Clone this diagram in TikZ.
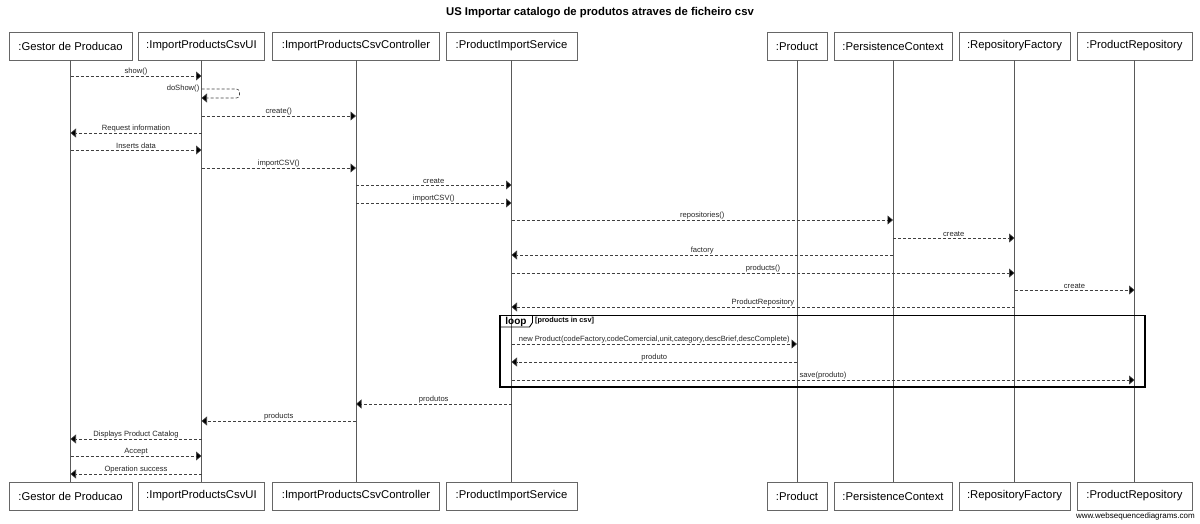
\documentclass[tikz,border=0pt]{standalone}
\usepackage{fontspec}
\setmainfont{Liberation Sans}
\usetikzlibrary{arrows.meta}
\tikzset{
  actor/.style={draw=black!60, fill=white, minimum height=28pt, inner sep=0pt, line width=0.7pt, font=\fontsize{11.3}{13}\selectfont},
  life/.style={draw=black!65, line width=0.8pt},
  msg/.style={draw=black!75, line width=0.6pt, dash pattern=on 3pt off 2pt, -{Triangle[length=5.5pt,width=9pt,fill=black]}},
  lbl/.style={above, inner sep=1pt, font=\fontsize{7.6}{8}\selectfont, text=black!85},
  frame/.style={draw=black, line width=1.1pt},
}
\newcommand\sqmsg[4]{\draw[msg] (#1 |- 0,#3) -- node[lbl]{#4} (#2 |- 0,#3);}
\begin{document}
\begin{tikzpicture}[x=1pt,y=-1pt]
\useasboundingbox (0,0) rectangle (1200,523);
\node[font=\bfseries\fontsize{11.3}{13}\selectfont] (title) at (600,13) {US Importar catalogo de produtos atraves de ficheiro csv};
% header boxes
\node[actor, minimum width=123pt] (g)    at (70.5,46)  {:Gestor de Producao};
\node[actor, minimum width=126pt] (ui)   at (201.5,46) {:ImportProductsCsvUI};
\node[actor, minimum width=167pt] (ctrl) at (356,46)   {:ImportProductsCsvController};
\node[actor, minimum width=131pt] (svc)  at (511.5,46) {:ProductImportService};
\node[actor, minimum width=60pt]  (prod) at (797,46)   {:Product};
\node[actor, minimum width=118pt] (pc)   at (893,46)   {:PersistenceContext};
\node[actor, minimum width=111pt] (rf)   at (1014.5,46){:RepositoryFactory};
\node[actor, minimum width=115pt] (pr)   at (1134.5,46){:ProductRepository};
% footer boxes
\node[actor, minimum width=123pt] (gF)    at (70.5,496)  {:Gestor de Producao};
\node[actor, minimum width=126pt] (uiF)   at (201.5,496) {:ImportProductsCsvUI};
\node[actor, minimum width=167pt] (ctrlF) at (356,496)   {:ImportProductsCsvController};
\node[actor, minimum width=131pt] (svcF)  at (511.5,496) {:ProductImportService};
\node[actor, minimum width=60pt]  (prodF) at (797,496)   {:Product};
\node[actor, minimum width=118pt] (pcF)   at (893,496)   {:PersistenceContext};
\node[actor, minimum width=111pt] (rfF)   at (1014.5,496){:RepositoryFactory};
\node[actor, minimum width=115pt] (prF)   at (1134.5,496){:ProductRepository};
% lifelines
\foreach \a in {g,ui,ctrl,svc,prod,pc,rf,pr}{\draw[life] (\a.south) -- (\a F.north);}
% messages
\sqmsg{g}{ui}{76}{show()}
\draw[msg, rounded corners=3pt] (ui |- 0,89) -- ++(38,0) -- ++(0,9) -- ++(-38,0);
\node[left, inner sep=1pt, font=\fontsize{7.6}{8}\selectfont, text=black!85] (doshow) at ([xshift=-1pt]ui |- 0,89) {doShow()};
\sqmsg{ui}{ctrl}{116}{create()}
\sqmsg{ui}{g}{133}{Request information}
\sqmsg{g}{ui}{150}{Inserts data}
\sqmsg{ui}{ctrl}{168}{importCSV()}
\sqmsg{ctrl}{svc}{185}{create}
\sqmsg{ctrl}{svc}{203}{importCSV()}
\sqmsg{svc}{pc}{220}{repositories()}
\sqmsg{pc}{rf}{238}{create}
\sqmsg{pc}{svc}{255}{factory}
\sqmsg{svc}{rf}{273}{products()}
\sqmsg{rf}{pr}{290}{create}
\sqmsg{rf}{svc}{307}{ProductRepository}
% loop frame
\draw[frame] (500,315.5) rectangle (1145,387);
\draw[frame, line width=0.9pt] (500,327) -- (529.5,327) -- (532.5,322.5) -- (532.5,315.5);
\node[font=\bfseries\fontsize{10}{11}\selectfont, inner sep=0pt] (looplbl) at (516,321.5) {loop};
\node[anchor=west, font=\bfseries\fontsize{7.3}{8}\selectfont, inner sep=0pt] (guard) at (535,320.5) {[products in csv]};
\sqmsg{svc}{prod}{344}{new Product(codeFactory,codeComercial,unit,category,descBrief,descComplete)}
\sqmsg{prod}{svc}{362}{produto}
\sqmsg{svc}{pr}{380}{save(produto)}
\sqmsg{svc}{ctrl}{404}{produtos}
\sqmsg{ctrl}{ui}{421}{products}
\sqmsg{ui}{g}{439}{Displays Product Catalog}
\sqmsg{g}{ui}{456}{Accept}
\sqmsg{ui}{g}{474}{Operation success}
\node[anchor=east, font=\fontsize{8}{9}\selectfont, inner sep=0pt] (foot) at (1195,516.5) {www.websequencediagrams.com};
\end{tikzpicture}
\end{document}
